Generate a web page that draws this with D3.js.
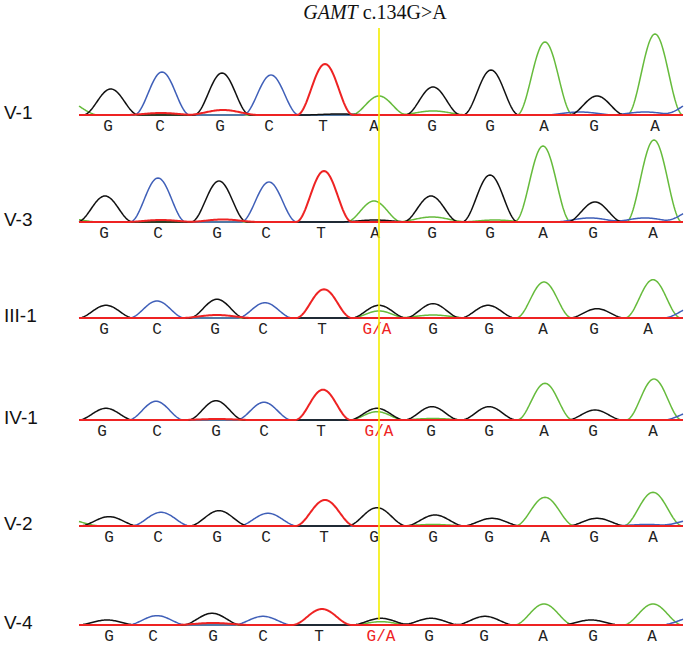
<!DOCTYPE html>
<html><head><meta charset="utf-8">
<script src="https://cdn.jsdelivr.net/npm/d3@7"></script>
<style>
html,body{margin:0;padding:0;background:#fff;}
svg{display:block;}
</style></head>
<body>
<svg id="chart" width="685" height="648"></svg>
<script>
// ---------------- DATA ----------------
const samples = ["V-1", "V-3", "III-1", "IV-1", "V-2", "V-4"];
const title = { gene: "GAMT", variant: " c.134G>A" };
const variantScan = 150;           // scan position of the c.134 site

// dye channels of the main peaks (same order in all samples)
const peakBases = ["G","C","G","C","T","G","G","G","A","G","A"];

// base calls shown under each trace
const callsV1   = ["G","C","G","C","T","A","G","G","A","G","A"];
const callsV3   = ["G","C","G","C","T","A","G","G","A","G","A"];
const callsIII1 = ["G","C","G","C","T","G/A","G","G","A","G","A"];
const callsIV1  = ["G","C","G","C","T","G/A","G","G","A","G","A"];
const callsV2   = ["G","C","G","C","T","G","G","G","A","G","A"];
const callsV4   = ["G","C","G","C","T","G/A","G","G","A","G","A"];

// scan positions of base calls
const callPosV1   = [14.5, 40.5, 70.5, 95, 122, 147.5, 176.5, 205.5, 232.5, 257.5, 288];
const callPosV3   = [12.5, 39.5, 69, 93.5, 121, 148, 176.5, 205.5, 232, 257, 287];
const callPosIII1 = [12.5, 39, 68, 92, 121.5, 149, 177, 205, 232, 257.5, 284.5];
const callPosIV1  = [11.5, 39, 68.5, 92.5, 121, 150, 176, 205, 232.5, 257, 287];
const callPosV2   = [15, 39.5, 69, 93.5, 122.5, 147.5, 177, 205, 233, 257.5, 287];
const callPosV4   = [15, 37, 67, 92, 120, 151, 175, 202.5, 232, 257, 286.5];

// main peak scan positions
const peakPosV1   = [15.9, 41.5, 71.5, 96, 123, 150, 177, 206, 233, 259, 288];
const peakPosV3   = [13, 39.5, 70, 95, 122.5, 147.5, 176, 205.5, 232, 258, 287.5];
const peakPosIII1 = [13.5, 39, 69, 93, 122.5, 150, 177, 204.5, 232.5, 259, 287];
const peakPosIV1  = [13.5, 38.5, 68.5, 92.5, 122, 149, 176.5, 205, 233, 258, 287.5];
const peakPosV2   = [15, 41, 70, 94.5, 123, 149, 178, 206.5, 233, 259, 287];
const peakPosV4   = [14, 39, 66.5, 92, 121.5, 151, 176, 203, 232.5, 256, 287];

// main peak heights (RFU); 6th peak is the G signal at c.134
const peakHtV1   = [520, 860, 840, 800, 1020, 0, 560, 900, 1460, 380, 1620];
const peakHtV3   = [520, 880, 820, 800, 1020, 0, 520, 940, 1520, 400, 1640];
const peakHtIII1 = [254, 340, 374, 306, 574, 254, 286, 254, 720, 186, 766];
const peakHtIV1  = [234, 374, 386, 354, 606, 234, 266, 266, 734, 200, 820];
const peakHtV2   = [186, 274, 306, 254, 520, 366, 220, 154, 574, 154, 674];
const peakHtV4   = [100, 186, 234, 174, 320, 134, 134, 174, 420, 100, 420];

// A signal at c.134 (RFU)
const variantA = [380, 420, 140, 166, 0, 66];

// secondary / background peaks: [dye, scan, RFU]
const minorV1   = [["A",-8,300],["T",41,40],["T",72,100],["A",177,80],["C",250.5,60],["C",283,60],["G",130,20],["C",310,300]];
const minorV3   = [["A",-8,80],["T",41,40],["T",72,50],["G",148,40],["A",176.5,100],["A",208,40],["C",255.5,80],["C",283,80],["C",310,280]];
const minorIII1 = [["T",69,60],["A",177,60],["C",310,260]];
const minorIV1  = [["T",69,20],["A",177,30],["C",310,200]];
const minorV2   = [["A",-8,140],["A",177,30],["C",284,30],["C",310,150]];
const minorV4   = [["T",67,40],["C",310,180]];

// peak half-widths at base (scans)
const widthBySample = [14, 14, 14, 14, 15, 15];

// ---------------- LAYOUT ----------------
const panelBase = [115, 222, 318, 420, 526, 625];
const dyeOrder = ["A", "C", "G", "T"];
const dyeColor = { A: "#66bb3c", C: "#3f5fb8", G: "#111111", T: "#ee2323" };

const calls   = [callsV1, callsV3, callsIII1, callsIV1, callsV2, callsV4];
const callPos = [callPosV1, callPosV3, callPosIII1, callPosIV1, callPosV2, callPosV4];
const peakPos = [peakPosV1, peakPosV3, peakPosIII1, peakPosIV1, peakPosV2, peakPosV4];
const peakHt  = [peakHtV1, peakHtV3, peakHtIII1, peakHtIV1, peakHtV2, peakHtV4];
const minor   = [minorV1, minorV3, minorIII1, minorIV1, minorV2, minorV4];

const svg = d3.select("#chart");
const x = d3.scaleLinear().domain([0, 302]).range([79, 683]);
const y = d3.scaleLinear().domain([0, 2000]).range([0, -100]);

// raised-cosine peak shape
function shape(d, w) {
  return Math.abs(d) >= w ? 0 : 0.5 * (1 + Math.cos(Math.PI * d / w));
}

// build trace for a dye channel
function trace(i, dye) {
  const w = widthBySample[i];
  const pk = [];
  peakBases.forEach((b, k) => { if (b === dye && peakHt[i][k] > 0) pk.push([peakPos[i][k], peakHt[i][k], w]); });
  if (dye === "A" && variantA[i] > 0) pk.push([peakPos[i][5], variantA[i], w]);
  minor[i].forEach(m => { if (m[0] === dye) pk.push([m[1], m[2], w * 1.3]); });
  const scans = d3.range(0, 302.01, 0.5);
  return scans.map(s => [s, d3.sum(pk, p => p[1] * shape(s - p[0], p[2]))]);
}

const line = d3.line().x(d => x(d[0])).y(d => y(d[1]));

samples.forEach((name, i) => {
  const g = svg.append("g").attr("transform", `translate(0,${panelBase[i]})`);
  dyeOrder.forEach(dye => {
    g.append("path")
      .attr("d", line(trace(i, dye)))
      .attr("fill", "none")
      .attr("stroke", dyeColor[dye])
      .attr("stroke-width", dye === "T" ? 2 : 1.5)
      .attr("stroke-linejoin", "round");
  });
  g.append("text")
    .attr("x", 4).attr("y", 4)
    .attr("font-family", "Liberation Sans, Arial, sans-serif")
    .attr("font-size", 19)
    .attr("fill", "#111")
    .text(name);
  g.selectAll("text.call").data(calls[i]).join("text")
    .attr("class", "call")
    .attr("x", (d, k) => x(callPos[i][k]))
    .attr("y", 16)
    .attr("text-anchor", "middle")
    .attr("font-family", "Liberation Mono, Courier New, monospace")
    .attr("font-size", 16)
    .attr("fill", d => d.includes("/") ? "#ee2323" : "#222")
    .text(d => d);
});

// variant marker
svg.append("line")
  .attr("x1", x(variantScan)).attr("x2", x(variantScan))
  .attr("y1", 28).attr("y2", 620)
  .attr("stroke", "#f4ee00").attr("stroke-width", 1.6);

const t = svg.append("text")
  .attr("x", 375).attr("y", 19)
  .attr("text-anchor", "middle")
  .attr("font-family", "Liberation Serif, Times New Roman, serif")
  .attr("font-size", 20)
  .attr("fill", "#111");
t.append("tspan").attr("font-style", "italic").text(title.gene);
t.append("tspan").text(title.variant);
</script>
</body></html>
